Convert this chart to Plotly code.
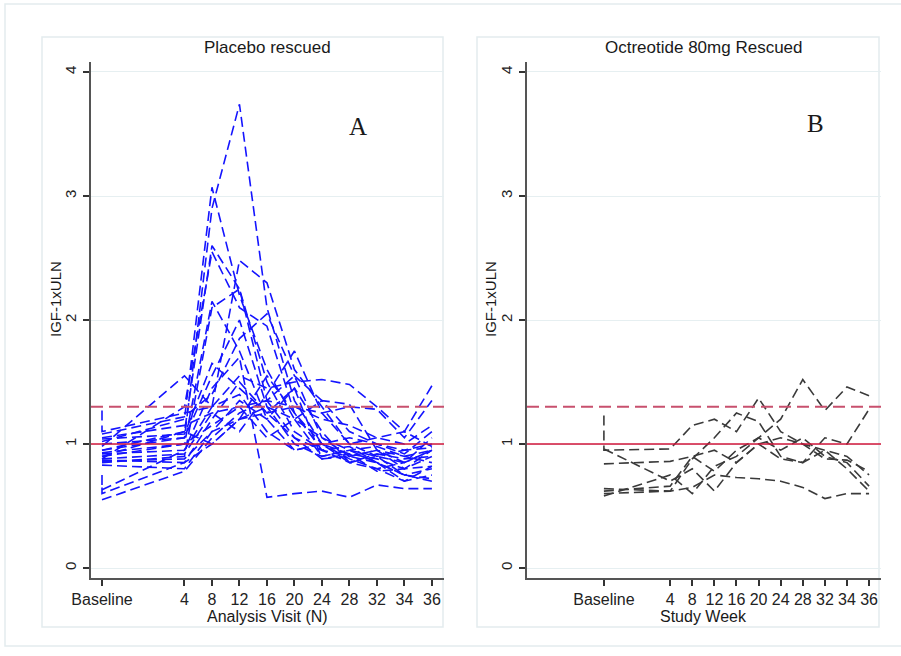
import plotly.graph_objects as go

# visit labels and their positions on the x axis (screening shares the baseline slot)
visit_labels = ["Baseline", "4", "8", "12", "16", "20", "24", "28", "32", "34", "36"]
visit_pos = [0, 3, 4, 5, 6, 7, 8, 9, 10, 11, 12]
point_pos = [0] + visit_pos  # screening, baseline, wk4 ... wk36

# IGF-1 x ULN per patient: screening, baseline, wk4, 8, 12, 16, 20, 24, 28, 32, 34, 36
placebo = [
    [None, 0.95, 1.05, 2.90, 3.74, 2.10, 1.35, 1.00, 0.92, 0.88, 0.80, 0.90],
    [None, 1.02, 1.20, 3.07, 2.20, 1.60, 1.20, 1.05, 0.95, 0.90, 0.85, 0.95],
    [None, 0.90, 1.10, 2.60, 2.25, 1.35, 1.55, 1.05, 0.90, 0.95, 0.90, 0.85],
    [None, 0.88, 1.30, 2.55, 2.10, 1.95, 1.25, 0.95, 0.98, 0.85, 0.75, 0.80],
    [None, 0.98, 1.55, 1.30, 2.48, 2.30, 1.60, 1.30, 1.00, 0.90, 0.95, 1.00],
    [None, 0.85, 0.90, 2.10, 2.25, 1.50, 1.10, 0.95, 0.85, 0.92, 0.88, 0.90],
    [None, 0.92, 0.95, 1.45, 1.70, 0.57, 0.60, 0.62, 0.57, 0.67, 0.64, 0.64],
    [1.27, 1.10, 1.25, 1.30, 1.55, 1.45, 1.50, 1.52, 1.48, 1.30, 1.10, 1.47],
    [None, 1.05, 1.15, 1.25, 1.30, 1.35, 1.30, 1.25, 1.30, 1.28, 1.05, 1.35],
    [None, 0.95, 1.10, 1.00, 1.20, 1.25, 1.30, 1.20, 1.15, 1.05, 1.00, 1.15],
    [None, 0.87, 0.85, 1.20, 1.50, 1.25, 1.05, 0.95, 0.90, 0.95, 0.80, 0.95],
    [None, 0.83, 0.80, 1.10, 1.35, 1.20, 1.45, 1.10, 0.85, 0.80, 0.85, 0.95],
    [0.65, 0.60, 0.85, 1.00, 1.20, 1.30, 1.20, 0.90, 0.95, 0.85, 0.70, 0.75],
    [None, 0.55, 0.78, 1.05, 1.25, 1.35, 1.05, 0.88, 0.92, 0.78, 0.80, 0.82],
    [0.75, 0.63, 0.95, 1.30, 1.40, 1.10, 0.95, 1.00, 0.85, 0.90, 0.75, 0.72],
    [None, 1.00, 1.05, 1.55, 2.00, 1.30, 1.00, 0.90, 0.95, 0.98, 0.90, 0.95],
    [None, 0.90, 1.00, 2.15, 1.75, 1.20, 0.95, 1.00, 1.05, 1.00, 0.95, 0.97],
    [None, 1.08, 1.22, 1.40, 1.85, 2.05, 1.55, 1.35, 1.10, 1.00, 0.92, 1.10],
    [None, 0.88, 0.92, 1.25, 1.10, 1.40, 1.75, 1.25, 1.00, 1.05, 1.10, 0.98],
    [None, 0.93, 1.00, 1.15, 1.30, 1.05, 1.20, 1.35, 1.32, 0.95, 0.85, 1.05],
    [None, 0.86, 0.88, 1.10, 1.20, 1.55, 1.25, 1.00, 0.88, 0.80, 0.70, 0.82],
    [None, 1.04, 1.08, 1.65, 1.45, 1.25, 1.45, 0.88, 0.90, 0.85, 0.75, 0.70],
]

octreotide = [
    [1.23, 0.95, 0.96, 1.15, 1.20, 1.10, 1.37, 1.10, 1.00, 0.95, 0.90, 0.75],
    [None, 0.84, 0.86, 0.90, 0.78, 0.95, 1.05, 1.20, 1.52, 1.27, 1.46, 1.39],
    [None, 0.60, 0.62, 0.65, 0.75, 0.73, 0.72, 0.70, 0.65, 0.56, 0.60, 0.60],
    [None, 0.62, 0.66, 0.90, 0.95, 0.85, 1.00, 0.88, 0.85, 1.05, 1.00, 1.28],
    [None, 0.58, 0.75, 0.60, 0.82, 0.90, 1.05, 0.95, 1.05, 0.90, 0.85, 0.66],
    [None, 0.64, 0.62, 0.88, 1.05, 1.25, 1.18, 0.90, 0.85, 0.95, 0.80, 0.62],
    [None, 0.96, 0.70, 0.80, 0.62, 0.85, 1.00, 1.05, 1.00, 0.88, 0.87, 0.78],
]

uln = 1.0
uln_130 = 1.3

W, H = 901, 656
font = "Liberation Sans, Arial, sans-serif"

fig = go.Figure()

for vals in placebo:
    fig.add_trace(go.Scatter(
        x=point_pos, y=vals, mode="lines", xaxis="x", yaxis="y",
        line=dict(color="#1414ff", width=1.6, dash="10px,5px"),
        showlegend=False, hoverinfo="skip",
    ))

for vals in octreotide:
    fig.add_trace(go.Scatter(
        x=point_pos, y=vals, mode="lines", xaxis="x2", yaxis="y2",
        line=dict(color="#3a3a3a", width=1.6, dash="10px,5px"),
        showlegend=False, hoverinfo="skip",
    ))

def px(x):
    return x / W

def py(y):
    return 1 - y / H

yax = dict(
    range=[-0.0806, 4.0806], tickvals=[0, 1, 2, 3, 4], tickangle=-90,
    showline=True, linecolor="#555", linewidth=2, ticks="outside", ticklen=6,
    tickcolor="#333", tickwidth=1.5, showgrid=True, gridcolor="#e6eff1", gridwidth=1,
    zeroline=False, automargin=False, ticklabelstandoff=1,
    tickfont=dict(family=font, size=15, color="#222"),
)
xax = dict(
    tickvals=visit_pos, ticktext=visit_labels,
    showline=True, linecolor="#555", linewidth=2, ticks="outside", ticklen=6,
    tickcolor="#333", tickwidth=1.5, showgrid=False, zeroline=False, automargin=False,
    tickfont=dict(family=font, size=16, color="#222"),
)

shapes = []
# outer frame and panel frames
for x0, y0, x1, y1 in [(5, 4, 905, 646), (42, 37, 443, 627), (477, 37, 879, 627)]:
    shapes.append(dict(type="rect", xref="paper", yref="paper",
                       x0=px(x0), x1=px(x1), y0=py(y1), y1=py(y0),
                       line=dict(color="#e3ecee", width=1.5), fillcolor="rgba(0,0,0,0)",
                       layer="below"))
# reference lines
for xr, yr, xd in [("x", "y", "x domain"), ("x2", "y2", "x2 domain")]:
    shapes.append(dict(type="line", xref=xd, yref=yr, x0=0, x1=1, y0=uln, y1=uln,
                       line=dict(color="#d0163a", width=1.5)))
    shapes.append(dict(type="line", xref=xd, yref=yr, x0=0, x1=1, y0=uln_130, y1=uln_130,
                       line=dict(color="#c8506e", width=2, dash="12px,6px")))

annotations = []
def note(text, x, y, size=16, angle=0, fam=font):
    annotations.append(dict(text=text, x=px(x), y=py(y), xref="paper", yref="paper",
                            showarrow=False, textangle=angle, xanchor="center",
                            yanchor="middle", font=dict(family=fam, size=size, color="#1a1a1a")))

note("Placebo rescued", 267, 48, size=17)
note("Octreotide 80mg Rescued", 704, 48, size=17)
note("Analysis Visit (N)", 267, 616)
note("Study Week", 703, 616)
note("IGF-1xULN", 55, 299, size=15, angle=-90)
note("IGF-1xULN", 490, 299, size=15, angle=-90)
note("A", 358, 126, size=25, fam="Liberation Serif, Times New Roman, serif")
note("B", 815, 123, size=25, fam="Liberation Serif, Times New Roman, serif")

fig.update_layout(
    width=W, height=H,
    margin=dict(l=0, r=0, t=0, b=0),
    paper_bgcolor="white", plot_bgcolor="white",
    xaxis=dict(xax, domain=[px(91), px(444)], range=[-0.40, 12.44], anchor="y"),
    yaxis=dict(yax, domain=[py(578), py(62)], anchor="x"),
    xaxis2=dict(xax, domain=[px(527), px(881)], range=[-3.48, 12.54], anchor="y2"),
    yaxis2=dict(yax, domain=[py(578), py(62)], anchor="x2"),
    shapes=shapes,
    annotations=annotations,
    showlegend=False,
)

# the page has no body margin so the figure sits at the window's top-left corner
fig.write_html("out.html", config={"displayModeBar": False},
               post_script="document.body.style.margin='0px';")
